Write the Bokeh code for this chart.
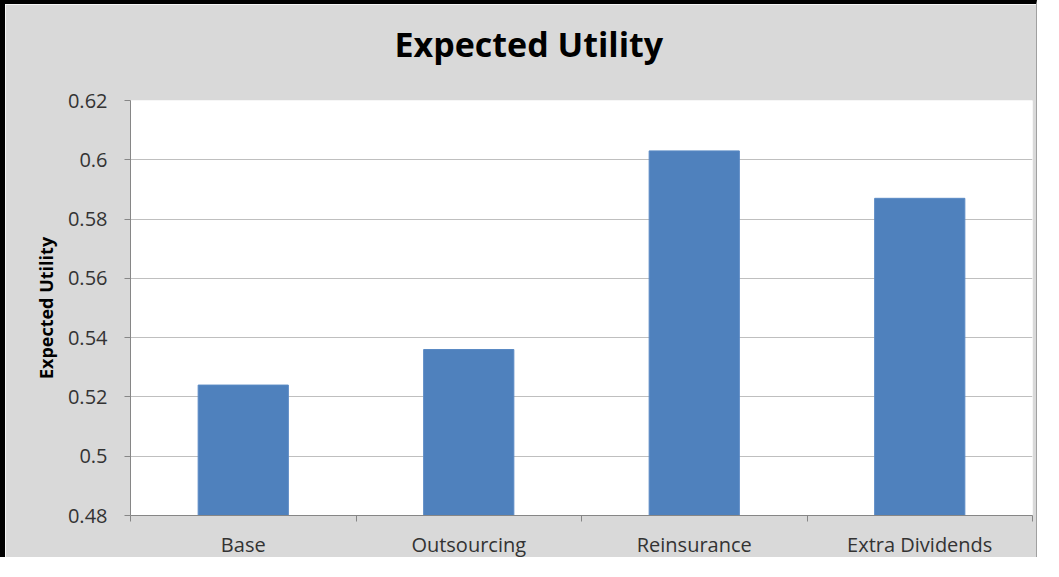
from bokeh.plotting import figure
from bokeh.models import FixedTicker, Range1d, ColumnDataSource, Title
from bokeh.embed import file_html
from bokeh.resources import INLINE

categories = ["Base", "Outsourcing", "Reinsurance", "Extra Dividends"]
values = [0.524, 0.536, 0.603, 0.587]
y_ticks = [0.48, 0.50, 0.52, 0.54, 0.56, 0.58, 0.60, 0.62]
y_tick_labels = ["0.48", "0.5", "0.52", "0.54", "0.56", "0.58", "0.6", "0.62"]
chart_title = "Expected Utility"
y_label = "Expected Utility"

x_centers = [i + 0.5 for i in range(len(categories))]
x_bounds = list(range(len(categories) + 1))

src = ColumnDataSource(dict(x=x_centers, top=values, cat=categories))

FONT = "Open Sans"
BG = "#d9d9d9"

p = figure(width=1037, height=557, output_backend="svg", toolbar_location=None,
           x_range=Range1d(0, len(categories)), y_range=Range1d(y_ticks[0], y_ticks[-1]),
           min_border_left=125, min_border_right=10, min_border_top=96, min_border_bottom=46,
           title=None)
p.styles = {"border-left": "5px solid black", "border-top": "4px solid black",
            "border-right": "1px solid #a0a0a0"}
p.background_fill_color = "white"
p.border_fill_color = BG
p.outline_line_color = None

p.vbar(x="x", top="top", bottom=y_ticks[0], width=0.4, source=src,
       fill_color="#4f81bd", line_color="#5a8ac4", line_width=1)

# spacer between frame and title
spacer = Title(text=" ", text_font_size="1px", standoff=26)
p.add_layout(spacer, "above")
t = Title(text=chart_title, text_font=FONT, text_font_size="34px", text_font_style="bold",
          text_color="black", align="left", offset=264, standoff=10)
p.add_layout(t, "above")

p.xgrid.visible = False
p.ygrid.ticker = FixedTicker(ticks=y_ticks)
p.ygrid.grid_line_color = "#bfbfbf"
p.ygrid.grid_line_width = 1

ya = p.yaxis[0]
ya.ticker = FixedTicker(ticks=y_ticks)
ya.major_label_overrides = dict(zip(y_ticks, y_tick_labels))
ya.axis_line_color = "#868686"
ya.major_tick_line_color = "#868686"
ya.major_tick_out = 6
ya.major_tick_in = 0
ya.minor_tick_line_color = None
ya.major_label_text_font = FONT
ya.major_label_text_font_size = "20px"
ya.major_label_text_color = "#333333"
ya.major_label_standoff = 17
ya.axis_label = y_label
ya.axis_label_text_font = FONT
ya.axis_label_text_font_size = "18px"
ya.axis_label_text_font_style = "bold"
ya.axis_label_text_color = "black"
ya.axis_label_standoff = 7

xa = p.xaxis[0]
xa.ticker = FixedTicker(ticks=x_centers, minor_ticks=x_bounds)
xa.major_label_overrides = dict(zip(x_centers, categories))
xa.axis_line_color = "#868686"
xa.major_tick_line_color = None
xa.major_tick_out = 0
xa.major_tick_in = 0
xa.minor_tick_line_color = "#868686"
xa.minor_tick_out = 6
xa.minor_tick_in = 0
xa.major_label_text_font = FONT
xa.major_label_text_font_size = "20px"
xa.major_label_text_color = "#333333"
xa.major_label_standoff = 9

open("out.html", "w").write(file_html(p, INLINE))
